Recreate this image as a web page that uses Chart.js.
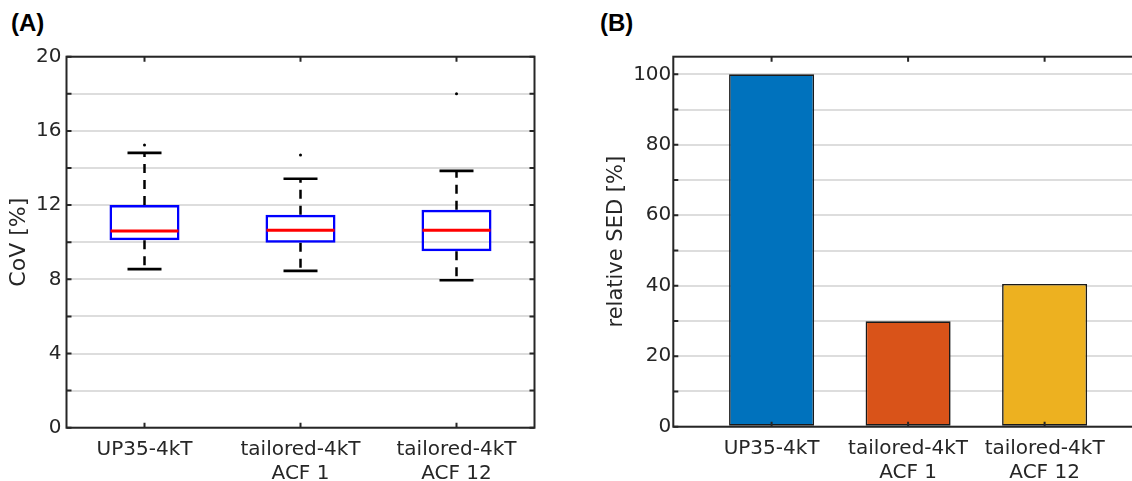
<!DOCTYPE html>
<html>
<head>
<meta charset="utf-8">
<script src="https://cdn.jsdelivr.net/npm/chart.js@4.4.1/dist/chart.umd.min.js"></script>
<style>
  html, body { margin: 0; padding: 0; background: #ffffff; width: 1132px; height: 481px; overflow: hidden; position: relative; }
  canvas { position: absolute; top: 0; }
  .panel-label { position: absolute; font-family: "Liberation Sans", Arial, sans-serif; font-weight: bold; font-size: 24px; line-height: 24px; color: #000; }
</style>
</head>
<body>
<div class="panel-label" style="left:11px; top:11px;">(A)</div>
<div class="panel-label" style="left:600px; top:11px;">(B)</div>
<canvas id="chartA" width="566" height="481" style="left:0px;"></canvas>
<canvas id="chartB" width="560" height="481" style="left:590px;"></canvas>
<script>
// ---- data ----
const categories = [['UP35-4kT'], ['tailored-4kT', 'ACF 1'], ['tailored-4kT', 'ACF 12']];
const covQ1 = [10.1, 9.97, 9.51];
const covMedian = [10.6, 10.64, 10.64];
const covQ3 = [12.0, 11.48, 11.75];
const covWhiskerLow = [8.55, 8.45, 7.95];
const covWhiskerHigh = [14.81, 13.42, 13.84];
const covOutliers = [[15.24], [14.7], [18.0]];
const covTickLabels = [0, 4, 8, 12, 16, 20];
const relativeSED = [100, 29.9, 40.5];
const sedTickLabels = [0, 20, 40, 60, 80, 100];
const sedColors = ['#0072BD', '#D95319', '#EDB120'];

// ---- styling ----
const AXIS = '#262626';
const GRID = '#dddddd';
const FONT = 'DejaVu Sans';

const framePlugin = {
  id: 'frame',
  afterDatasetsDraw(chart) {
    const {ctx, chartArea: a, scales: {x, y}} = chart;
    const L = 5;
    ctx.save();
    ctx.strokeStyle = AXIS;
    ctx.lineWidth = 2;
    ctx.beginPath();
    y.ticks.forEach(t => {
      const py = y.getPixelForValue(t.value);
      ctx.moveTo(a.left, py); ctx.lineTo(a.left + L, py);
      ctx.moveTo(a.right, py); ctx.lineTo(a.right - L, py);
    });
    x.ticks.forEach(t => {
      const px = x.getPixelForValue(t.value);
      ctx.moveTo(px, a.bottom); ctx.lineTo(px, a.bottom - L);
      ctx.moveTo(px, a.top); ctx.lineTo(px, a.top + L);
    });
    ctx.stroke();
    ctx.strokeRect(a.left, a.top, a.right - a.left, a.bottom - a.top);
    ctx.restore();
  }
};

function categoryTicks(scale) {
  scale.ticks = categories.map((_, i) => ({value: i + 1}));
}

function xAxis(min, max, height) {
  return {
    type: 'linear', min: min, max: max, offset: false,
    afterBuildTicks: categoryTicks,
    afterFit: s => { s.height = height; s.paddingLeft = 0; s.paddingRight = 0; },
    grid: {display: false, drawTicks: false},
    border: {display: false},
    ticks: {
      color: AXIS, font: {family: FONT, size: 20}, padding: 10,
      maxRotation: 0, autoSkip: false,
      callback: v => categories[Math.round(v) - 1] || ''
    }
  };
}

function yAxis(min, max, step, labels, width, title, titleSize, titlePad, tickPad) {
  return {
    type: 'linear', min: min, max: max,
    afterFit: s => { s.width = width; s.paddingTop = 0; s.paddingBottom = 0; },
    grid: {color: GRID, lineWidth: 2, drawTicks: false},
    border: {display: false},
    ticks: {
      stepSize: step, includeBounds: false, autoSkip: false,
      color: AXIS, font: {family: FONT, size: 20}, padding: tickPad,
      callback: v => labels.includes(v) ? String(v) : ''
    },
    title: {display: true, text: title, color: AXIS, font: {family: FONT, size: titleSize}, padding: {top: titlePad, bottom: 0}}
  };
}

// ---- Panel A: box plot ----
const boxData = categories.map((_, i) => ({x: i + 1, y: [covQ1[i], covQ3[i]]}));
const medianData = categories.map((_, i) => ({x: i + 1, y: covMedian[i]}));
const capData = [];
const whiskerData = [];
categories.forEach((_, i) => {
  capData.push({x: i + 1, y: covWhiskerHigh[i]}, {x: i + 1, y: covWhiskerLow[i]});
  whiskerData.push({x: i + 1, y: covQ3[i]}, {x: i + 1, y: covWhiskerHigh[i]}, {x: i + 1, y: null});
  whiskerData.push({x: i + 1, y: covQ1[i]}, {x: i + 1, y: covWhiskerLow[i]}, {x: i + 1, y: null});
});
const outlierData = [];
covOutliers.forEach((arr, i) => arr.forEach(v => outlierData.push({x: i + 1, y: v})));

new Chart(document.getElementById('chartA'), {
  type: 'bar',
  data: {
    datasets: [
      {type: 'line', data: medianData, showLine: false, pointStyle: 'line', pointRadius: 34,
       pointBorderColor: '#ff0000', pointBorderWidth: 3, order: 0},
      {type: 'bar', data: boxData, backgroundColor: 'rgba(0,0,0,0)', borderColor: '#0000ff',
       borderWidth: 2.5, borderSkipped: false, barPercentage: 0.449, categoryPercentage: 1, order: 1},
      {type: 'line', data: whiskerData, borderColor: '#000000', borderWidth: 2.5, borderDash: [9, 7],
       pointRadius: 0, spanGaps: false, order: 2},
      {type: 'line', data: capData, showLine: false, pointStyle: 'line', pointRadius: 17,
       pointBorderColor: '#000000', pointBorderWidth: 2.7, order: 2},
      {type: 'line', data: outlierData, showLine: false, pointStyle: 'circle', pointRadius: 1.5,
       pointBackgroundColor: '#000000', pointBorderColor: '#000000', pointBorderWidth: 0, order: 2}
    ]
  },
  options: {
    responsive: false, animation: false, devicePixelRatio: 1,
    layout: {autoPadding: false, padding: {top: 56.7, right: 31.5, left: 0, bottom: 0}},
    plugins: {legend: {display: false}, tooltip: {enabled: false}},
    scales: {
      x: xAxis(0.5, 3.5, 481 - 427.7),
      y: yAxis(0, 20, 2, covTickLabels, 66.5, 'CoV [%]', 22, 6, 5)
    }
  },
  plugins: [framePlugin]
});

// ---- Panel B: bar chart ----
new Chart(document.getElementById('chartB'), {
  type: 'bar',
  data: {
    datasets: [{
      data: relativeSED.map((v, i) => ({x: i + 1, y: v})),
      backgroundColor: sedColors, borderColor: '#1a1a1a', borderWidth: 1.6, borderSkipped: false,
      barPercentage: 0.623, categoryPercentage: 1
    }]
  },
  options: {
    responsive: false, animation: false, devicePixelRatio: 1,
    layout: {autoPadding: false, padding: {top: 56.7, right: 7.1, left: 0, bottom: 0}},
    plugins: {legend: {display: false}, tooltip: {enabled: false}},
    scales: {
      x: xAxis(0.28, 3.72, 481 - 426.7),
      y: yAxis(0, 105, 10, sedTickLabels, 83.3, 'relative SED [%]', 21, 14, 2)
    }
  },
  plugins: [framePlugin]
});
</script>
</body>
</html>
